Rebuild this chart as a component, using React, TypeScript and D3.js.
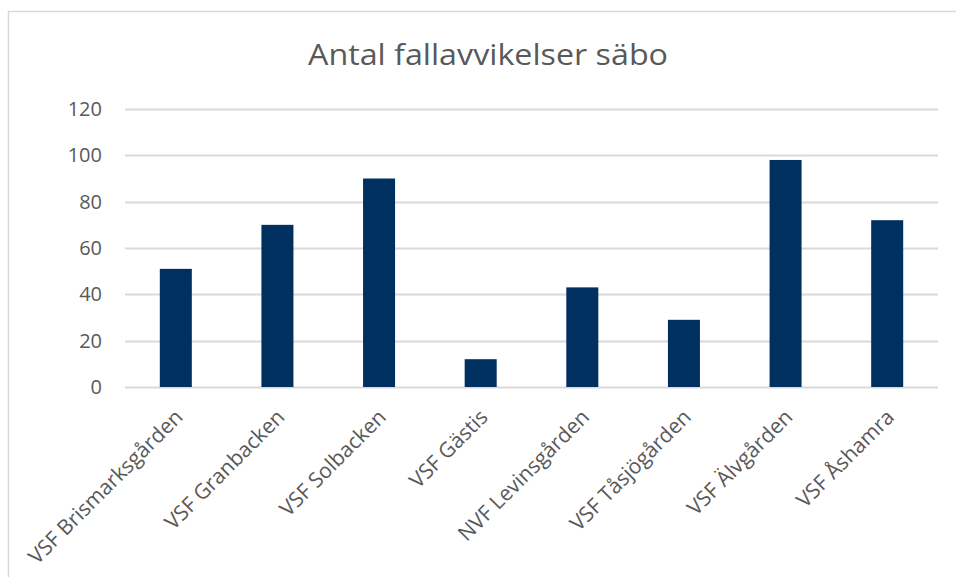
import * as d3 from 'd3';
import React, { useEffect, useRef } from 'react';

const categories = [
  'VSF Brismarksgården',
  'VSF Granbacken',
  'VSF Solbacken',
  'VSF Gästis',
  'NVF Levinsgården',
  'VSF Tåsjögården',
  'VSF Älvgården',
  'VSF Åshamra',
];
const values = [51, 70, 90, 12, 43, 29, 98, 72];
const yTicks = [0, 20, 40, 60, 80, 100, 120];
const title = 'Antal fallavvikelser säbo';

const width = 956;
const height = 577;
const margin = { top: 109, right: 18, bottom: 190, left: 125 };
const font = "'Open Sans', sans-serif";
const textColor = '#595959';
const gridColor = '#d9d9d9';

export default function App() {
  const ref = useRef<SVGSVGElement>(null);

  useEffect(() => {
    const svg = d3.select(ref.current);
    svg.selectAll('*').remove();

    const x = d3.scaleBand()
      .domain(categories)
      .range([margin.left, width - margin.right])
      .paddingInner(0.685)
      .paddingOuter(0.3425);

    const y = d3.scaleLinear()
      .domain([0, 120])
      .range([height - margin.bottom, margin.top]);

    // chart border (cropped at right/bottom)
    svg.append('line')
      .attr('x1', 8.5).attr('x2', 8.5).attr('y1', 11).attr('y2', height)
      .attr('stroke', gridColor).attr('stroke-width', 1.5);
    svg.append('line')
      .attr('x1', 8).attr('x2', width).attr('y1', 11.5).attr('y2', 11.5)
      .attr('stroke', gridColor).attr('stroke-width', 1.5);

    svg.append('text')
      .attr('x', 488)
      .attr('y', 65)
      .attr('text-anchor', 'middle')
      .attr('font-family', font)
      .attr('font-size', 30)
      .attr('fill', textColor)
      .attr('textLength', 360)
      .attr('lengthAdjust', 'spacingAndGlyphs')
      .text(title);

    // gridlines
    svg.append('g')
      .selectAll('line')
      .data(yTicks)
      .join('line')
      .attr('x1', margin.left)
      .attr('x2', width - margin.right)
      .attr('y1', d => Math.round(y(d)) + 0.5)
      .attr('y2', d => Math.round(y(d)) + 0.5)
      .attr('stroke', gridColor)
      .attr('stroke-width', 2);

    // y tick labels
    svg.append('g')
      .selectAll('text')
      .data(yTicks)
      .join('text')
      .attr('x', 102)
      .attr('y', d => y(d))
      .attr('dy', '0.35em')
      .attr('text-anchor', 'end')
      .attr('font-family', font)
      .attr('font-size', 20)
      .attr('fill', textColor)
      .text(d => d);

    // bars
    svg.append('g')
      .selectAll('rect')
      .data(values)
      .join('rect')
      .attr('x', (d, i) => x(categories[i])!)
      .attr('y', d => y(d))
      .attr('width', x.bandwidth())
      .attr('height', d => y(0) - y(d))
      .attr('fill', '#003060');

    // x labels
    svg.append('g')
      .selectAll('text')
      .data(categories)
      .join('text')
      .attr('transform', d => {
        const cx = x(d)! + x.bandwidth() / 2;
        return `translate(${cx - 2},${y(0) + 21}) rotate(-45)`;
      })
      .attr('dy', '0.7em')
      .attr('text-anchor', 'end')
      .attr('font-family', font)
      .attr('font-size', 21)
      .attr('fill', textColor)
      .text(d => d);
  }, []);

  return (
    <svg
      ref={ref}
      width={width}
      height={height}
      style={{ position: 'absolute', left: 0, top: 0, background: '#fff' }}
    />
  );
}
